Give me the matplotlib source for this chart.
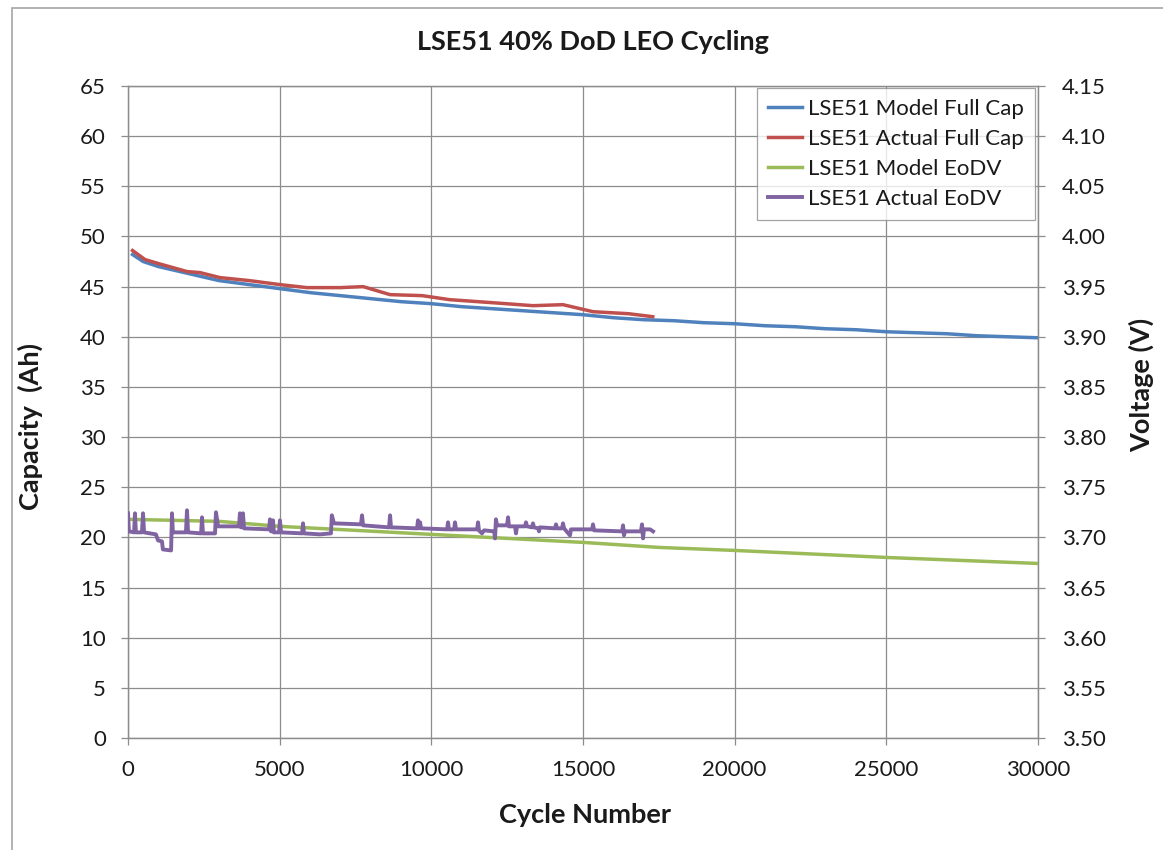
import matplotlib
matplotlib.use("Agg")
import matplotlib.pyplot as plt
from matplotlib.patches import Rectangle

plt.rcParams['font.family'] = ['Lato', 'DejaVu Sans']

# ---------------- data ----------------
model_cap_cycles = [150, 500, 1000, 2000, 3000, 4000, 5000, 6000, 7000, 8000, 9000, 10000,
                    11000, 12000, 13000, 14000, 15000, 16000, 17000, 18000, 19000, 20000,
                    21000, 22000, 23000, 24000, 25000, 26000, 27000, 28000, 29000, 30000]
model_cap_ah = [48.2, 47.5, 47.0, 46.3, 45.6, 45.2, 44.8, 44.4, 44.1, 43.8, 43.5, 43.3,
                43.0, 42.8, 42.6, 42.4, 42.2, 41.9, 41.7, 41.6, 41.4, 41.3,
                41.1, 41.0, 40.8, 40.7, 40.5, 40.4, 40.3, 40.1, 40.0, 39.9]

actual_cap_cycles = [150, 560, 1000, 1945, 2370, 3030, 4000, 5010, 5900, 7000, 7750, 8640,
                     9700, 10600, 12000, 13350, 14340, 15330, 16500, 17300]
actual_cap_ah = [48.6, 47.7, 47.3, 46.5, 46.4, 45.9, 45.6, 45.2, 44.9, 44.9, 45.0, 44.2,
                 44.1, 43.7, 43.4, 43.1, 43.2, 42.5, 42.3, 42.0]

model_eodv_cycles = [0, 3000, 5000, 10000, 15000, 17500, 20000, 25000, 30000]
model_eodv_v = [3.718, 3.716, 3.711, 3.703, 3.695, 3.690, 3.687, 3.680, 3.674]

actual_eodv_cycles = [0, 30, 200, 230, 260, 460, 495, 530, 920, 990, 1120, 1150, 1420, 1450,
                      1480, 1910, 1945, 1980, 2410, 2440, 2470, 2870, 2900, 2970, 3660, 3690,
                      3725, 3790, 3825, 4650, 4680, 4715, 4750, 4780, 4810, 4980, 5010, 5045,
                      5740, 5770, 5800, 6330, 6690, 6720, 6790, 7680, 7715, 7750, 8605, 8640,
                      8670, 9530, 9560, 9595, 9630, 9660, 10520, 10550, 10580, 10750, 10780,
                      10815, 11510, 11540, 11570, 11670, 11740, 12070, 12100, 12130, 12165,
                      12495, 12530, 12560, 12760, 12790, 12825, 13090, 13120, 13155, 13320,
                      13350, 13385, 13520, 13550, 13580, 14080, 14110, 14145, 14310, 14340,
                      14375, 14570, 14605, 15300, 15330, 15365, 16290, 16320, 16350, 16385,
                      16910, 16945, 16980, 17010, 17210, 17310]
actual_eodv_v = [3.724, 3.706, 3.705, 3.724, 3.705, 3.705, 3.724, 3.705, 3.703, 3.697, 3.696,
                 3.688, 3.687, 3.724, 3.705, 3.705, 3.727, 3.705, 3.704, 3.720, 3.704, 3.704,
                 3.725, 3.711, 3.711, 3.724, 3.710, 3.724, 3.709, 3.708, 3.718, 3.706, 3.706,
                 3.717, 3.705, 3.705, 3.717, 3.705, 3.704, 3.714, 3.704, 3.703, 3.704, 3.722,
                 3.714, 3.713, 3.722, 3.712, 3.710, 3.722, 3.710, 3.709, 3.717, 3.709, 3.715,
                 3.709, 3.708, 3.715, 3.708, 3.708, 3.715, 3.708, 3.708, 3.715, 3.707, 3.704,
                 3.707, 3.706, 3.699, 3.718, 3.712, 3.712, 3.720, 3.711, 3.711, 3.704, 3.711,
                 3.711, 3.715, 3.711, 3.710, 3.714, 3.710, 3.709, 3.706, 3.710, 3.709, 3.713,
                 3.709, 3.709, 3.714, 3.709, 3.702, 3.708, 3.708, 3.713, 3.707, 3.706, 3.712,
                 3.702, 3.706, 3.706, 3.713, 3.699, 3.708, 3.708, 3.706]

x_ticks = [0, 5000, 10000, 15000, 20000, 25000, 30000]
cap_ticks = list(range(0, 70, 5))
volt_ticks = [3.50, 3.55, 3.60, 3.65, 3.70, 3.75, 3.80, 3.85, 3.90, 3.95, 4.00, 4.05, 4.10, 4.15]

labels = ["LSE51 Model Full Cap", "LSE51 Actual Full Cap", "LSE51 Model EoDV", "LSE51 Actual EoDV"]
colors = ["#4F81BD", "#C0504D", "#9BBB59", "#8064A2"]

# ---------------- figure ----------------
W, H = 1163, 850
fig = plt.figure(figsize=(W / 100, H / 100), dpi=100)
fig.patches.append(Rectangle((12 / W, -0.05), 1.2, 1 - 8 / H + 0.05,
                             transform=fig.transFigure, fill=False,
                             edgecolor="#a6a6a6", linewidth=1.2, zorder=0))

ax = fig.add_axes([128 / W, 1 - 738 / H, 910 / W, 652 / H])
ax2 = ax.twinx()

grid_c = "#8c8c8c"
txt_c = "#1a1a1a"
l1, = ax.plot(model_cap_cycles, model_cap_ah, color=colors[0], lw=2.5, label=labels[0], zorder=3)
l2, = ax.plot(actual_cap_cycles, actual_cap_ah, color=colors[1], lw=2.5, label=labels[1], zorder=4)
l3, = ax2.plot(model_eodv_cycles, model_eodv_v, color=colors[2], lw=2.5, label=labels[2], zorder=3)
l4, = ax2.plot(actual_eodv_cycles, actual_eodv_v, color=colors[3], lw=2.8, label=labels[3], zorder=4)

ax.set_xlim(0, 30000)
ax.set_ylim(0, 65)
ax2.set_ylim(3.50, 4.15)
ax.set_xticks(x_ticks)
ax.set_xticklabels([str(t) for t in x_ticks])
ax.set_yticks(cap_ticks)
ax2.set_yticks(volt_ticks)
ax2.set_yticklabels([f"{v:.2f}" for v in volt_ticks])

ax.grid(True, color=grid_c, linewidth=0.9)
ax.set_axisbelow(True)
for a in (ax, ax2):
    for s in a.spines.values():
        s.set_color(grid_c)
        s.set_linewidth(0.9)
    a.tick_params(axis="both", which="major", length=5, width=0.9, color=grid_c,
                  labelsize=16, labelcolor=txt_c)
ax.tick_params(axis="x", pad=11)
ax.tick_params(axis="y", pad=11)
ax2.tick_params(axis="y", pad=12)

fig.text(585 / W, 1 - 815 / H, "Cycle Number", ha="center", va="center",
         fontsize=19.5, fontweight="bold", color=txt_c)
fig.text(30 / W, 1 - 426 / H, "Capacity  (Ah)", ha="center", va="center", rotation=90,
         fontsize=19.5, fontweight="bold", color=txt_c)
fig.text(1141 / W, 1 - 385 / H, "Voltage (V)", ha="center", va="center", rotation=90,
         fontsize=19.5, fontweight="bold", color=txt_c)

fig.text(593 / W, 1 - 42 / H, "LSE51 40% DoD LEO Cycling", ha="center", va="center",
         fontsize=19.5, fontweight="bold", color=txt_c)

leg = ax2.legend(handles=[l1, l2, l3, l4], loc="upper right", bbox_to_anchor=(0.9967, 0.997),
                 borderaxespad=0, fontsize=16, frameon=True, fancybox=False,
                 handlelength=1.55, handletextpad=0.25, labelspacing=0.45, borderpad=0.5)
leg.get_frame().set_edgecolor("#8c8c8c")
leg.get_frame().set_linewidth(0.9)
for t in leg.get_texts():
    t.set_color(txt_c)

fig.savefig("out.png", dpi=100)
